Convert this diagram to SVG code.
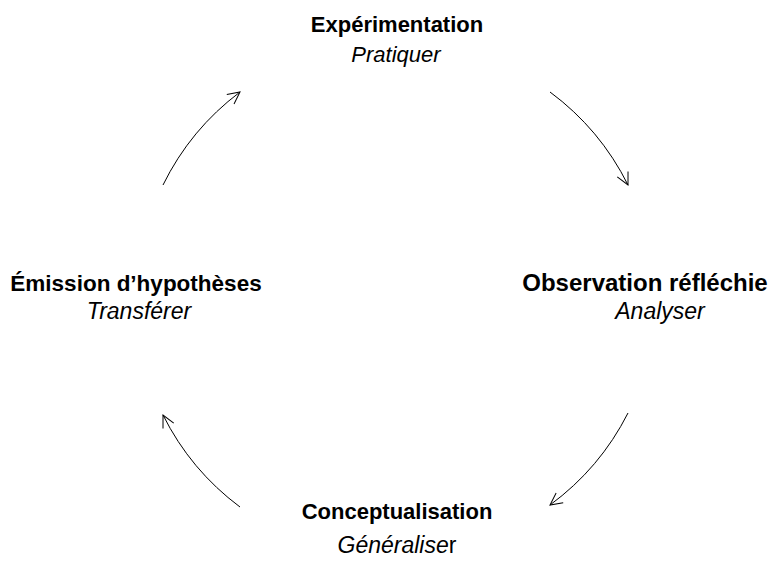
<svg xmlns="http://www.w3.org/2000/svg" width="771" height="582" viewBox="0 0 771 582">
<defs>
<marker id="ah" viewBox="0 0 14 14" refX="13" refY="7" markerWidth="14" markerHeight="14" markerUnits="userSpaceOnUse" orient="auto">
<polyline points="1,1 13,7 1,13" fill="none" stroke="#000" stroke-width="1"/>
</marker>
<style>
.t{font-family:"Liberation Sans",Arial,sans-serif;font-weight:bold;fill:#000;text-anchor:middle}
.s{font-family:"Liberation Sans",Arial,sans-serif;font-style:italic;fill:#000;text-anchor:middle}
.c{fill:none;stroke:#000;stroke-width:1;marker-end:url(#ah)}
</style>
</defs>
<rect width="771" height="582" fill="#fff"/>
<g id="connectors">
<path class="c" d="M163,185 A260,260 0 0 1 240,92"/>
<path class="c" d="M550,92 A260,260 0 0 1 628,185"/>
<path class="c" d="M628,413 A260,260 0 0 1 550,505"/>
<path class="c" d="M240,507 A260,260 0 0 1 163,415"/>
</g>
<g id="node-experimentation">
<text class="t" x="397" y="32" font-size="22">Expérimentation</text>
<text class="s" x="396" y="62" font-size="22">Pratiquer</text>
</g>
<g id="node-observation">
<text class="t" x="645" y="291" font-size="24">Observation réfléchie</text>
<text class="s" x="660" y="319" font-size="23">Analyser</text>
</g>
<g id="node-conceptualisation">
<text class="t" x="397" y="519" font-size="22">Conceptualisation</text>
<text class="s" x="397" y="553" font-size="23">Généralise<tspan font-style="normal">r</tspan></text>
</g>
<g id="node-emission">
<text class="t" x="136" y="291" font-size="22.5">Émission d’hypothèses</text>
<text class="s" x="139" y="319" font-size="23">Transférer</text>
</g>
</svg>
